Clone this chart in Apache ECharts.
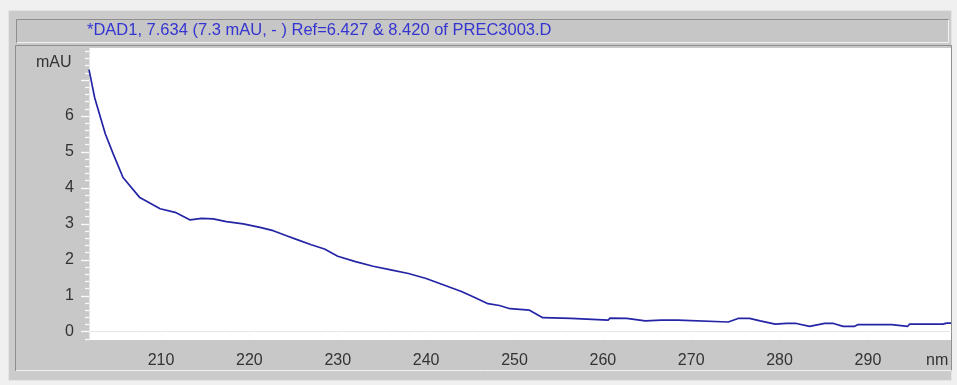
<!DOCTYPE html>
<html>
<head>
<meta charset="utf-8">
<script src="https://cdn.jsdelivr.net/npm/echarts@6/dist/echarts.min.js"></script>
<style>
  html, body { margin: 0; padding: 0; background: #f0f0f0; }
  #chart { width: 957px; height: 385px; }
</style>
</head>
<body>
<div id="chart"></div>
<script>
// UV spectrum of the DAD1 peak at 7.634 min (wavelength in nm, absorbance in mAU)
const wavelength = [
  201.85, 202.5, 203.7, 204.6, 205.7, 207.6, 209.9, 211.6, 213.3, 214.6,
  215.9, 217.4, 219.3, 221.2, 222.7, 224.2, 225.4, 227.0, 228.5, 230.0,
  232.0, 234.0, 236.0, 238.0, 240.0, 242.0, 244.0, 245.5, 247.0, 248.3,
  249.5, 251.7, 253.2, 256.4, 256.6, 260.6, 260.8, 262.7, 262.9, 264.8,
  265.0, 266.6, 268.5, 268.7, 274.2, 275.3, 276.6, 277.8, 279.5, 280.8,
  281.9, 283.4, 285.1, 286.1, 287.2, 288.5, 288.9, 292.7, 292.9, 294.5,
  294.7, 298.5, 298.9, 299.4
];
const absorbance = [
  7.29, 6.50, 5.50, 4.94, 4.29, 3.73, 3.42, 3.32, 3.11, 3.15,
  3.14, 3.06, 3.00, 2.90, 2.81, 2.67, 2.56, 2.42, 2.30, 2.10,
  1.95, 1.82, 1.72, 1.62, 1.48, 1.30, 1.12, 0.95, 0.78, 0.73,
  0.64, 0.60, 0.39, 0.37, 0.32, 0.32, 0.38, 0.37, 0.32, 0.30,
  0.27, 0.32, 0.32, 0.27, 0.27, 0.37, 0.37, 0.30, 0.21, 0.23,
  0.23, 0.15, 0.23, 0.23, 0.15, 0.15, 0.20, 0.20, 0.15, 0.15,
  0.21, 0.21, 0.24, 0.24
];
const xTickLabels = [210, 220, 230, 240, 250, 260, 270, 280, 290];
const yTickLabels = [0, 1, 2, 3, 4, 5, 6];
const titleText = '*DAD1, 7.634 (7.3 mAU, - ) Ref=6.427 & 8.420 of PREC3003.D';

const X_MIN = 201.85, X_MAX = 299.4;
const Y_MIN = -0.23, Y_MAX = 7.89;

// major and minor tick positions
const yMajor = [0, 1, 2, 3, 4, 5, 6, 7];
const yMinor = [];
for (let i = -1; i <= 39; i++) { const v = +(i * 0.2).toFixed(1); if (i % 5 !== 0) yMinor.push(v); }
const xMinor = [];
for (let v = 202; v <= 298; v += 2) { if (v % 10 !== 0) xMinor.push(v); }

const points = wavelength.map((w, i) => [w, absorbance[i]]);
const font = 'Arial, "Liberation Sans", sans-serif';
const tickColor = '#fafafa';

const chart = echarts.init(document.getElementById('chart'), null, { renderer: 'canvas' });
chart.setOption({
  animation: false,
  backgroundColor: '#f0f0f0',
  graphic: [
    // window frame
    { type: 'rect', z: -10, shape: { x: 8.5, y: 10.5, width: 943, height: 370 },
      style: { fill: '#cbcbcb', stroke: '#e4e4e4', lineWidth: 1 } },
    // title strip
    { type: 'rect', z: -9, shape: { x: 16.5, y: 19.5, width: 932, height: 23 },
      style: { fill: '#c6c6c6', stroke: '#8e8e8e', lineWidth: 1 } },
    { type: 'polyline', z: -8, shape: { points: [[17, 42.5], [948.5, 42.5], [948.5, 20]] },
      style: { stroke: '#f2f2f2', lineWidth: 1, fill: null } },
    // plot panel
    { type: 'rect', z: -9, shape: { x: 15.5, y: 45.5, width: 936, height: 325 },
      style: { fill: '#c8c8c8', stroke: '#8e8e8e', lineWidth: 1 } },
    { type: 'polyline', z: -8, shape: { points: [[16, 370.5], [951.5, 370.5]] },
      style: { stroke: '#f2f2f2', lineWidth: 1, fill: null } },
    { type: 'text', left: 87, top: 22,
      style: { text: titleText, font: '16.5px ' + font, fill: '#3434d0' } },
    { type: 'text', left: 36, top: 55,
      style: { text: 'mAU', font: '16px ' + font, fill: '#333333' } },
    { type: 'text', left: 926, top: 353,
      style: { text: 'nm', font: '16px ' + font, fill: '#333333' } }
  ],
  grid: {
    left: 89, right: 6, top: 48, bottom: 45,
    show: true, backgroundColor: '#ffffff', borderWidth: 0
  },
  xAxis: [
    {
      type: 'value', min: X_MIN, max: X_MAX, position: 'bottom',
      axisLine: { show: true, lineStyle: { color: '#e6e6e6', width: 1 } },
      axisTick: { show: true, length: 8, customValues: xTickLabels, lineStyle: { color: tickColor, width: 1.3 } },
      axisLabel: { show: true, customValues: xTickLabels, margin: 13,
        color: '#333333', fontSize: 16, fontFamily: font },
      splitLine: { show: false }
    },
    {
      type: 'value', min: X_MIN, max: X_MAX, position: 'bottom',
      axisLine: { show: false },
      axisTick: { show: true, length: 4, customValues: xMinor, lineStyle: { color: tickColor, width: 1.3 } },
      axisLabel: { show: false },
      splitLine: { show: false }
    }
  ],
  yAxis: [
    {
      type: 'value', min: Y_MIN, max: Y_MAX, position: 'left',
      axisLine: { show: true, lineStyle: { color: '#e6e6e6', width: 1 } },
      axisTick: { show: true, length: 8, customValues: yMajor, lineStyle: { color: tickColor, width: 1.3 } },
      axisLabel: { show: true, customValues: yTickLabels, margin: 15,
        color: '#333333', fontSize: 16, fontFamily: font },
      splitLine: { show: false }
    },
    {
      type: 'value', min: Y_MIN, max: Y_MAX, position: 'left',
      axisLine: { show: false },
      axisTick: { show: true, length: 4, customValues: yMinor, lineStyle: { color: tickColor, width: 1.3 } },
      axisLabel: { show: false },
      splitLine: { show: false }
    }
  ],
  series: [{
    type: 'line',
    xAxisIndex: 0, yAxisIndex: 0,
    data: points,
    showSymbol: false,
    smooth: false,
    lineStyle: { color: '#2424a6', width: 1.7 },
    clip: true
  }]
});
</script>
</body>
</html>
